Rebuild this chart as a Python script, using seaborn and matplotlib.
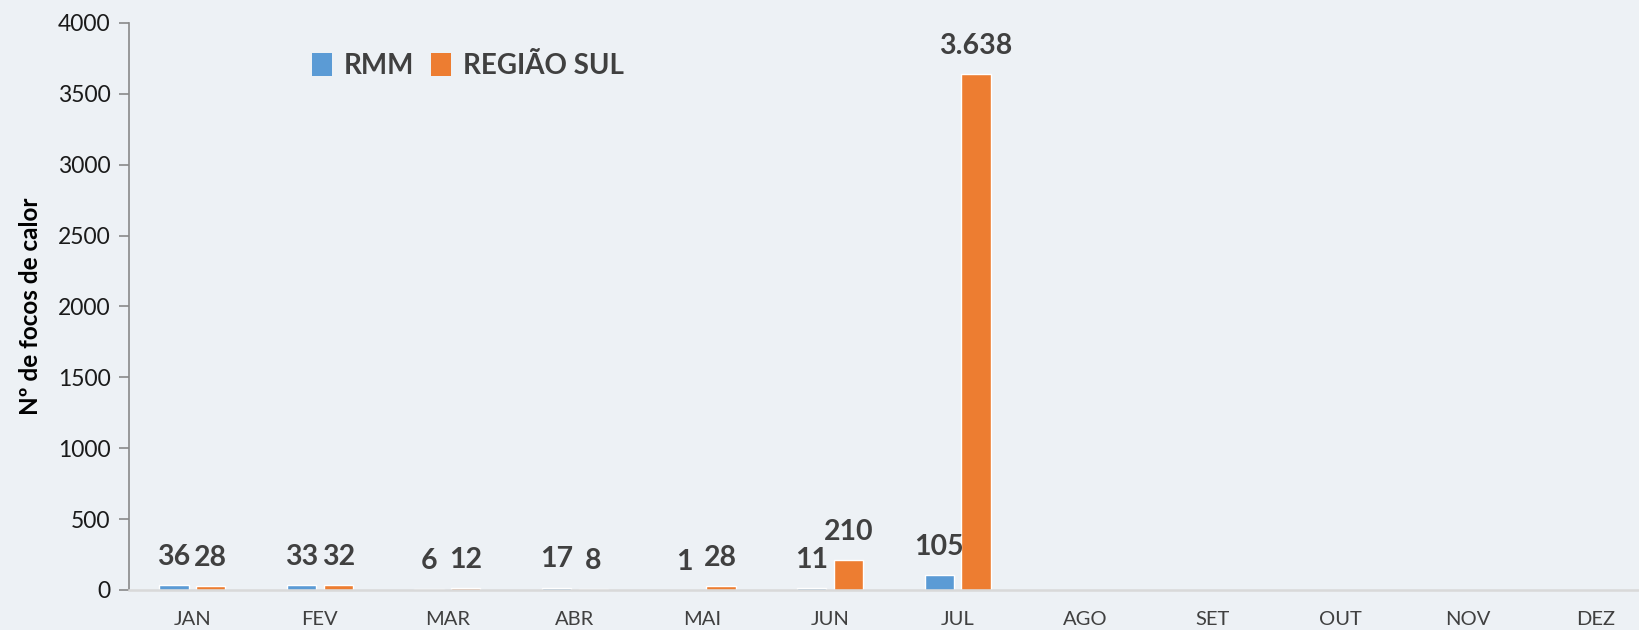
import numpy as np
import pandas as pd
import matplotlib
matplotlib.use("Agg")
import matplotlib.pyplot as plt
import seaborn as sns
from matplotlib.patches import Patch

months = ["JAN", "FEV", "MAR", "ABR", "MAI", "JUN", "JUL", "AGO", "SET", "OUT", "NOV", "DEZ"]
rmm = [36, 33, 6, 17, 1, 11, 105, np.nan, np.nan, np.nan, np.nan, np.nan]
regiao_sul = [28, 32, 12, 8, 28, 210, 3638, np.nan, np.nan, np.nan, np.nan, np.nan]
series_names = ["RMM", "REGIÃO SUL"]
colors = ["#5B9BD5", "#ED7D31"]
yticks = [0, 500, 1000, 1500, 2000, 2500, 3000, 3500, 4000]

sns.set_theme(style="white")
plt.rcParams["font.family"] = ["Lato", "DejaVu Sans"]

bg = "#EDF1F5"
fig = plt.figure(figsize=(16.4, 6.3), dpi=100, facecolor=bg)
ax = fig.add_axes([0.0784, 0.0635, 0.9216, 0.9], facecolor=bg)

df = pd.DataFrame({
    "mes": months * 2,
    "serie": [series_names[0]] * 12 + [series_names[1]] * 12,
    "valor": rmm + regiao_sul,
}).dropna()

sns.barplot(data=df, x="mes", y="valor", hue="serie", order=months,
            hue_order=series_names, palette=colors, width=0.575, gap=0.2,
            saturation=1, legend=False, ax=ax, errorbar=None)

def fmt(v):
    return f"{int(v):,}".replace(",", ".")

for cont, name in zip(ax.containers, series_names):
    vals = df[df["serie"] == name]["valor"].tolist()
    ax.bar_label(cont, labels=[fmt(v) for v in vals], padding=11,
                 fontsize=20.5, fontweight="bold", color="#404040")

ax.set_xlim(-0.5, 11.35)
ax.set_ylim(0, 4000)
ax.set_yticks(yticks)
ax.set_yticklabels([str(t) for t in yticks], fontsize=16.5, color="#1a1a1a")
ax.tick_params(axis="y", which="major", left=True, length=7, width=1.2, color="#898989", pad=6)
ax.tick_params(axis="x", bottom=False, labelsize=14.5, labelcolor="#404040", pad=9)
ax.set_xlabel("")
ax.set_ylabel("Nº de focos de calor", fontsize=17.5, fontweight="bold", color="#000000", labelpad=11)

for s in ["top", "right"]:
    ax.spines[s].set_visible(False)
ax.spines["left"].set_color("#898989")
ax.spines["left"].set_linewidth(1.2)
ax.spines["bottom"].set_color("#D9D9D9")
ax.spines["bottom"].set_linewidth(1.8)

handles = [Patch(facecolor=c, edgecolor="none", label=n) for c, n in zip(colors, series_names)]
leg = fig.legend(handles=handles, loc="center left", bbox_to_anchor=(0.19, 0.895), ncol=2,
                 frameon=False, handlelength=0.75, handleheight=0.9, handletextpad=0.4,
                 columnspacing=0.6, borderpad=0, borderaxespad=0,
                 prop={"size": 20, "weight": "bold"})
for t in leg.get_texts():
    t.set_color("#404040")

fig.savefig("out.png", dpi=100, facecolor=bg)
